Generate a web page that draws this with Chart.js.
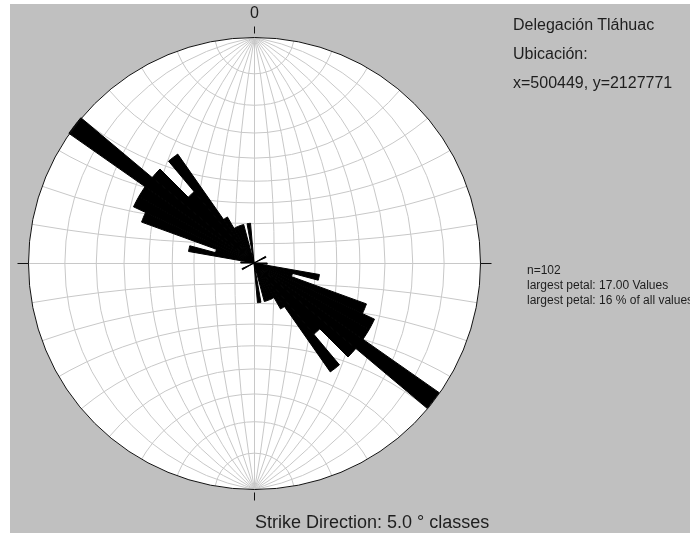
<!DOCTYPE html>
<html lang="es">
<head>
<meta charset="utf-8">
<title>Rose diagram - Tláhuac</title>
<script src="https://cdn.jsdelivr.net/npm/chart.js"></script>
<style>
  body { margin: 0; background: #fff; }
  #wrap { position: relative; width: 690px; height: 533px; overflow: hidden; font-family: "Liberation Sans", Arial, sans-serif; }
  #rose { position: absolute; left: 0; top: 0; }
  .t { position: absolute; white-space: nowrap; color: #1e1e1e; line-height: 16px; font-size: 16px; }
  .s { position: absolute; white-space: nowrap; color: #1e1e1e; line-height: 15px; font-size: 12px; }
</style>
</head>
<body>
<div id="wrap">
  <canvas id="rose" width="690" height="533"></canvas>
  <div class="t" id="north" style="left:250px; top:5px;"></div>
  <div class="t" id="info" style="left:513px; top:10px; line-height:29px;"></div>
  <div class="s" id="stats" style="left:527px; top:263px;"></div>
  <div class="t" id="caption" style="left:255px; top:513px; font-size:18px; line-height:18px;"></div>
</div>
<script>
// clases de 5 grados (0-180), rumbo bidireccional
const classStart = [0, 5, 10, 15, 20, 25, 30, 35, 40, 45, 50, 55, 60, 65, 70, 75, 80, 85,
                    90, 95, 100, 105, 110, 115, 120, 125, 130, 135, 140, 145, 150, 155, 160, 165, 170, 175];
// numero de datos por clase
const strikeCounts = [0, 0, 0, 0, 0, 0, 0, 0, 0, 0, 0, 0, 1, 0, 0, 0, 0, 0,
                      1, 0, 5, 3, 9, 10, 10, 17, 10, 7, 10, 4, 3, 3, 3, 0, 3, 0];
const maxPetal = 17;
const tickLabels = ['0'];
const infoLines = ['Delegación Tláhuac', 'Ubicación:', 'x=500449, y=2127771'];
const statLines = ['n=102', 'largest petal: 17.00 Values', 'largest petal: 16 % of all values'];
const caption = 'Strike Direction: 5.0 ° classes';

document.getElementById('north').textContent = tickLabels[0];
document.getElementById('info').innerHTML = infoLines.join('<br>');
document.getElementById('stats').innerHTML = statLines.join('<br>');
document.getElementById('caption').textContent = caption;

// 72 petalos: 0-180 y su reflejo 180-360
const labels = classStart.concat(classStart.map(a => a + 180)).map(a => a + '-' + (a + 5));
const values = strikeCounts.concat(strikeCounts);

// red de Wulff de fondo (cada 10 grados)
const stereonet = {
  id: 'stereonet',
  beforeDraw(chart) {
    const ctx = chart.ctx;
    ctx.save();
    ctx.fillStyle = '#fff';
    ctx.fillRect(0, 0, chart.width, chart.height);
    ctx.fillStyle = '#c0c0c0';
    ctx.fillRect(10, 4, chart.width - 10, chart.height - 4);
    ctx.restore();
  },
  beforeDatasetsDraw(chart) {
    const sc = chart.scales.r;
    const cx = sc.xCenter + 0.5, cy = sc.yCenter + 0.5, R = sc.drawingArea;
    const ctx = chart.ctx;
    ctx.save();
    ctx.beginPath();
    ctx.arc(cx, cy, R, 0, 2 * Math.PI);
    ctx.fillStyle = '#fff';
    ctx.fill();
    ctx.clip();
    ctx.strokeStyle = '#c8c8c8';
    ctx.lineWidth = 1;
    for (let k = 1; k < 9; k++) {
      // meridianos
      const x0 = R * Math.tan(k * 5 * Math.PI / 180);
      const h = (x0 * x0 - R * R) / (2 * x0);
      const rho = x0 - h;
      ctx.beginPath(); ctx.arc(cx + h, cy, rho, 0, 2 * Math.PI); ctx.stroke();
      ctx.beginPath(); ctx.arc(cx - h, cy, rho, 0, 2 * Math.PI); ctx.stroke();
      // circulos menores
      const a = k * 10 * Math.PI / 180;
      const d = R / Math.cos(a), rr = R * Math.tan(a);
      ctx.beginPath(); ctx.arc(cx, cy - d, rr, 0, 2 * Math.PI); ctx.stroke();
      ctx.beginPath(); ctx.arc(cx, cy + d, rr, 0, 2 * Math.PI); ctx.stroke();
    }
    ctx.beginPath();
    ctx.moveTo(cx - R, cy); ctx.lineTo(cx + R, cy);
    ctx.moveTo(cx, cy - R); ctx.lineTo(cx, cy + R);
    ctx.stroke();
    ctx.restore();
  },
  afterDatasetsDraw(chart) {
    const sc = chart.scales.r;
    const cx = sc.xCenter + 0.5, cy = sc.yCenter + 0.5, R = sc.drawingArea;
    const ctx = chart.ctx;
    ctx.save();
    ctx.strokeStyle = '#111';
    ctx.lineWidth = 1;
    ctx.beginPath();
    ctx.arc(cx, cy, R, 0, 2 * Math.PI);
    ctx.stroke();
    ctx.beginPath();
    ctx.moveTo(cx - R - 11, cy); ctx.lineTo(cx - R, cy);
    ctx.moveTo(cx + R, cy); ctx.lineTo(cx + R + 11, cy);
    ctx.moveTo(cx, cy - R - 11); ctx.lineTo(cx, cy - R - 4);
    ctx.moveTo(cx, cy + R + 3); ctx.lineTo(cx, cy + R + 11);
    ctx.stroke();
    ctx.restore();
  }
};

new Chart(document.getElementById('rose'), {
  type: 'polarArea',
  data: {
    labels: labels,
    datasets: [{
      data: values,
      backgroundColor: '#000',
      borderColor: '#000',
      borderWidth: c => (c.raw > 0 ? 1 : 0)
    }]
  },
  options: {
    responsive: false,
    animation: false,
    layout: { padding: { left: 28, top: 37, right: 209, bottom: 43 } },
    plugins: { legend: { display: false }, tooltip: { enabled: false } },
    scales: {
      r: { display: false, min: 0, max: maxPetal }
    }
  },
  plugins: [stereonet]
});
</script>
</body>
</html>
